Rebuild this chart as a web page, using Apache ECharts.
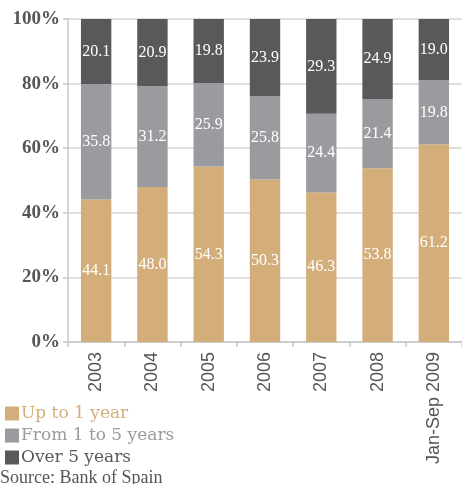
<!DOCTYPE html>
<html>
<head>
<meta charset="utf-8">
<script src="https://cdn.jsdelivr.net/npm/echarts@6/dist/echarts.min.js"></script>
<style>
  html, body { margin: 0; padding: 0; background: #fff; }
  #chart { width: 462px; height: 484px; }
</style>
</head>
<body>
<div id="chart"></div>
<script>
// categories and shares (%)
var years = ["2003", "2004", "2005", "2006", "2007", "2008", "Jan-Sep 2009"];
var upTo1 = [44.1, 48.0, 54.3, 50.3, 46.3, 53.8, 61.2];
var from1to5 = [35.8, 31.2, 25.9, 25.8, 24.4, 21.4, 19.8];
var over5 = [20.1, 20.9, 19.8, 23.9, 29.3, 24.9, 19.0];
var seriesNames = ["Up to 1 year", "From 1 to 5 years", "Over 5 years"];
var colors = ["#d3ae7b", "#9a9b9e", "#59595b"];

var chart = echarts.init(document.getElementById("chart"));

var serif = "Liberation Serif";

function barSeries(name, data, color) {
  return {
    name: name,
    type: "bar",
    stack: "total",
    barWidth: "54%",
    data: data,
    itemStyle: { color: color },
    label: {
      show: true,
      position: "inside",
      color: "#fff",
      fontFamily: serif,
      fontSize: 16,
      formatter: function(p) { return p.value.toFixed(1); }
    }
  };
}

var option = {
  animation: false,
  grid: { left: 68, right: -9, top: 19, bottom: 142 },
  legend: {
    orient: "vertical",
    left: 0,
    top: 400,
    itemWidth: 14,
    itemHeight: 14,
    itemGap: 5,
    icon: "rect",
    textStyle: { fontFamily: "DejaVu Serif", fontSize: 17, padding: [0, 0, 0, -3] },
    data: seriesNames.map(function(n, i) {
      return { name: n, textStyle: { color: colors[i] } };
    })
  },
  graphic: [{
    type: "text",
    left: 0,
    top: 469,
    style: { text: "Source: Bank of Spain", fontFamily: serif, fontSize: 18, fill: "#555" }
  }],
  xAxis: {
    type: "category",
    data: years,
    axisLine: { lineStyle: { color: "#c8c8c8", width: 1.5 } },
    axisTick: { show: true, length: 5, lineStyle: { color: "#c8c8c8", width: 1.5 } },
    axisLabel: {
      rotate: 90,
      margin: 10,
      fontFamily: "Liberation Sans",
      fontSize: 18,
      color: "#555"
    }
  },
  yAxis: {
    type: "value",
    min: 0,
    max: 100,
    interval: 20,
    axisLine: { show: true, lineStyle: { color: "#c8c8c8", width: 1.5 } },
    axisTick: { show: true, length: 5, lineStyle: { color: "#c8c8c8", width: 1.5 } },
    splitLine: { lineStyle: { color: "#d4d4d4", width: 1.5 } },
    axisLabel: {
      formatter: "{value}%",
      fontFamily: serif,
      fontSize: 19,
      fontWeight: "bold",
      color: "#555",
      margin: 8
    }
  },
  series: [
    barSeries(seriesNames[0], upTo1, colors[0]),
    barSeries(seriesNames[1], from1to5, colors[1]),
    barSeries(seriesNames[2], over5, colors[2])
  ]
};

chart.setOption(option);
</script>
</body>
</html>
